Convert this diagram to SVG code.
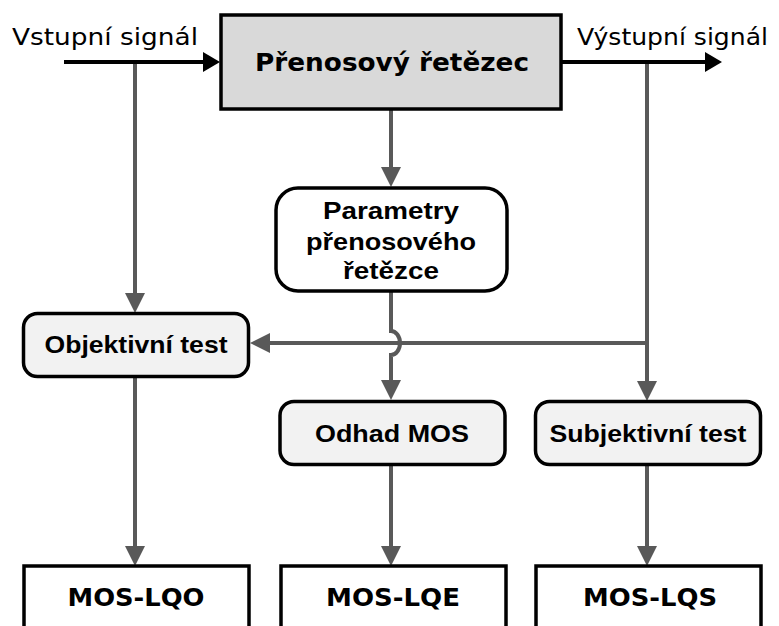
<svg xmlns="http://www.w3.org/2000/svg" width="779" height="626" viewBox="0 0 779 626">
<defs>
<marker id="ag" viewBox="0 0 20 20" markerUnits="userSpaceOnUse" markerWidth="20" markerHeight="20" refX="12" refY="10" orient="auto">
<path d="M0,0 L20,10 L0,20 z" fill="#595959"/>
</marker>
<marker id="ab" viewBox="0 0 17 20" markerUnits="userSpaceOnUse" markerWidth="17" markerHeight="20" refX="9" refY="10" orient="auto">
<path d="M0,0 L17,10 L0,20 z" fill="#000"/>
</marker>
</defs>
<style>
.dv{font-family:"DejaVu Sans",Verdana,sans-serif;fill:#000}
.ar{font-family:"Liberation Sans",Arial,sans-serif;font-weight:bold;font-size:24px;fill:#000;text-anchor:middle}
.g{stroke:#595959;stroke-width:4;fill:none}
.b{stroke:#000;stroke-width:4;fill:none}
.node{stroke:#000;stroke-width:3.5}
</style>
<rect width="779" height="626" fill="#fff"/>
<g id="connectors">
<line class="b" x1="64" y1="62" x2="212" y2="62" marker-end="url(#ab)"/>
<line class="b" x1="562" y1="62" x2="714" y2="62" marker-end="url(#ab)"/>
<line class="g" x1="135" y1="64" x2="135" y2="305" marker-end="url(#ag)"/>
<line class="g" x1="391" y1="110" x2="391" y2="179" marker-end="url(#ag)"/>
<line class="g" x1="647" y1="64" x2="647" y2="393" marker-end="url(#ag)"/>
<path class="g" d="M647,343 H258" marker-end="url(#ag)"/>
<path class="g" d="M391,291 V331 A9 12 0 0 1 391 355 V392" marker-end="url(#ag)"/>
<line class="g" x1="135" y1="377" x2="135" y2="558" marker-end="url(#ag)"/>
<line class="g" x1="391" y1="465" x2="391" y2="558" marker-end="url(#ag)"/>
<line class="g" x1="647" y1="465" x2="647" y2="558" marker-end="url(#ag)"/>
</g>
<g id="label-vstup">
<text class="dv" x="12" y="45" font-size="23" textLength="186" lengthAdjust="spacingAndGlyphs">Vstupní signál</text>
</g>
<g id="label-vystup">
<text class="dv" x="577" y="45" font-size="23" textLength="191" lengthAdjust="spacingAndGlyphs">Výstupní signál</text>
</g>
<g id="prenosovy-retezec">
<rect class="node" x="221" y="15" width="340" height="94" fill="#d9d9d9" stroke-width="4"/>
<text class="dv" x="392" y="71" font-size="25" font-weight="bold" text-anchor="middle" textLength="274" lengthAdjust="spacingAndGlyphs">Přenosový řetězec</text>
</g>
<g id="parametry">
<rect class="node" x="276" y="188" width="231" height="103" rx="22" fill="#fff"/>
<text class="ar" x="391" y="219" textLength="136" lengthAdjust="spacingAndGlyphs">Parametry</text>
<text class="ar" x="391" y="250" textLength="170" lengthAdjust="spacingAndGlyphs">přenosového</text>
<text class="ar" x="391" y="279" textLength="96" lengthAdjust="spacingAndGlyphs">řetězce</text>
</g>
<g id="objektivni-test">
<rect class="node" x="23.5" y="313.5" width="225" height="63" rx="14" fill="#f2f2f2"/>
<text class="ar" x="136" y="353" textLength="183" lengthAdjust="spacingAndGlyphs">Objektivní test</text>
</g>
<g id="odhad-mos">
<rect class="node" x="280" y="401.5" width="225" height="63" rx="14" fill="#f2f2f2"/>
<text class="ar" x="392" y="442" textLength="154" lengthAdjust="spacingAndGlyphs">Odhad MOS</text>
</g>
<g id="subjektivni-test">
<rect class="node" x="535.5" y="401.5" width="225" height="63" rx="14" fill="#f2f2f2"/>
<text class="ar" x="648" y="442" textLength="197" lengthAdjust="spacingAndGlyphs">Subjektivní test</text>
</g>
<g id="mos-lqo">
<rect class="node" x="24" y="566" width="225" height="80" fill="#fff"/>
<text class="dv" x="136" y="606" font-size="25" font-weight="bold" text-anchor="middle" textLength="137" lengthAdjust="spacingAndGlyphs">MOS-LQO</text>
</g>
<g id="mos-lqe">
<rect class="node" x="281" y="566" width="225" height="80" fill="#fff"/>
<text class="dv" x="393" y="606" font-size="25" font-weight="bold" text-anchor="middle" textLength="134" lengthAdjust="spacingAndGlyphs">MOS-LQE</text>
</g>
<g id="mos-lqs">
<rect class="node" x="536" y="566" width="225" height="80" fill="#fff"/>
<text class="dv" x="650" y="606" font-size="25" font-weight="bold" text-anchor="middle" textLength="134" lengthAdjust="spacingAndGlyphs">MOS-LQS</text>
</g>
</svg>
